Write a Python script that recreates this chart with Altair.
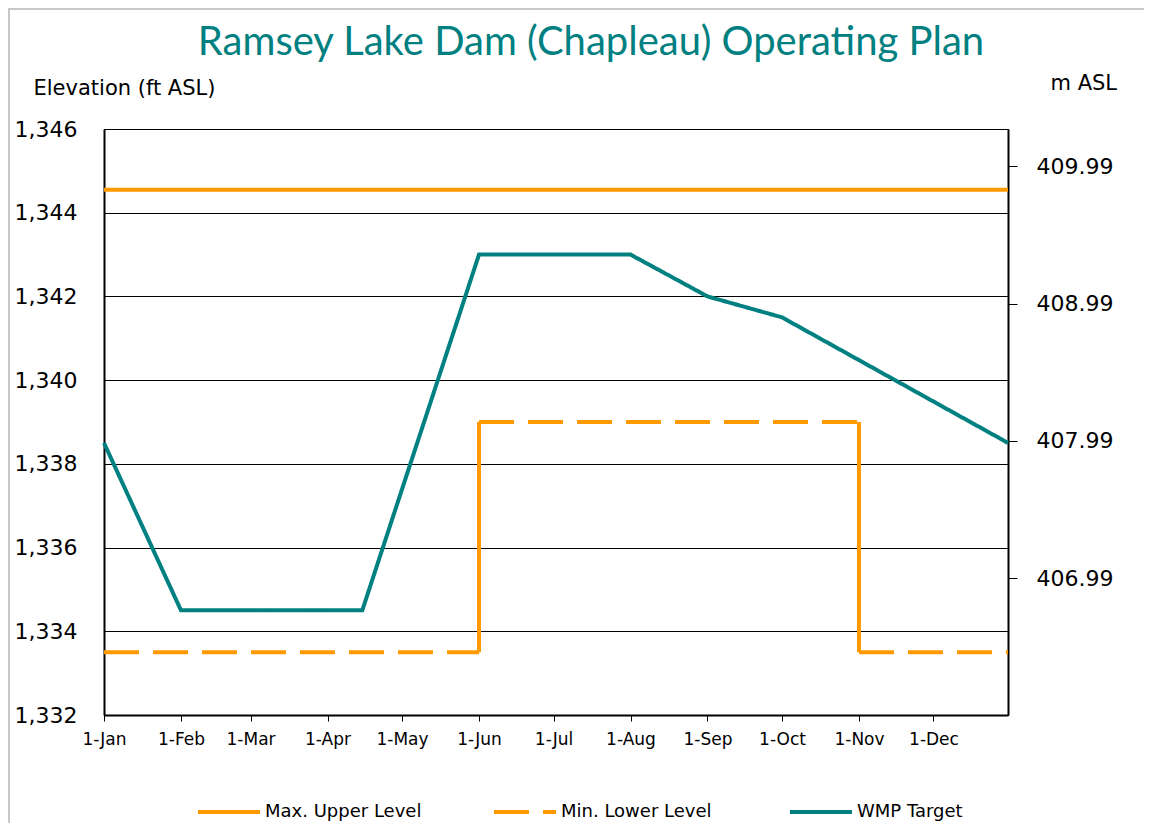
import altair as alt
import pandas as pd

# ---------------- data ----------------
series_names = ["Max. Upper Level", "Min. Lower Level", "WMP Target"]

month_ticks = ["2021-01-01", "2021-02-01", "2021-03-01", "2021-04-01", "2021-05-01", "2021-06-01",
               "2021-07-01", "2021-08-01", "2021-09-01", "2021-10-01", "2021-11-01", "2021-12-01"]

wmp_dates = ["2021-01-01", "2021-02-01", "2021-04-15", "2021-06-01", "2021-08-01",
             "2021-09-01", "2021-10-01", "2021-12-31"]
wmp_values = [1338.5, 1334.5, 1334.5, 1343.0, 1343.0, 1342.0, 1341.5, 1338.5]

max_dates = ["2021-01-01", "2021-12-31"]
max_values = [1344.55, 1344.55]

min_dates = ["2021-01-01", "2021-06-01", "2021-06-01", "2021-11-01", "2021-11-01", "2021-12-31"]
min_values = [1333.5, 1333.5, 1339.0, 1339.0, 1333.5, 1333.5]
min_segments = [1, 1, 2, 2, 3, 3]

step_dates = ["2021-06-01", "2021-11-01"]
step_from = [1333.5, 1339.0]
step_to = [1339.0, 1333.5]

ft_ticks = [1332, 1334, 1336, 1338, 1340, 1342, 1344, 1346]
m_ticks = [405.99, 406.99, 407.99, 408.99, 409.99]

FT_PER_M = 3.28084
FT_DOMAIN = [1332, 1346]
M_DOMAIN = [FT_DOMAIN[0] / FT_PER_M, FT_DOMAIN[1] / FT_PER_M]

ORANGE = "#FF9900"
TEAL = "#008080"
TITLE_FONT = "Lato"
FONT = "DejaVu Sans"

rows = []
for d, v in zip(max_dates, max_values):
    rows.append({"series": series_names[0], "seg": 0, "date": d, "value": v})
for d, v, s in zip(min_dates, min_values, min_segments):
    rows.append({"series": series_names[1], "seg": s, "date": d, "value": v})
for d, v in zip(wmp_dates, wmp_values):
    rows.append({"series": series_names[2], "seg": 0, "date": d, "value": v})
df = pd.DataFrame(rows)

steps = pd.DataFrame({"date": step_dates, "value": step_from, "value2": step_to})
mdf = pd.DataFrame({"m": m_ticks})

# ---------------- scales / axes ----------------
x_scale = alt.Scale(type="utc",
                    domain=[alt.DateTime(year=2021, month=1, date=1, utc=True),
                            alt.DateTime(year=2021, month=12, date=31, utc=True)])
x_axis = alt.Axis(values=[alt.DateTime(year=2021, month=i + 1, date=1, utc=True) for i in range(len(month_ticks))],
                  format="%-d-%b", title=None, grid=False, labelFlush=False,
                  domainColor="black", domainWidth=2, tickColor="black", tickSize=6, tickWidth=1,
                  labelFontSize=17, labelColor="black", labelPadding=10, labelFont=FONT)

y_scale = alt.Scale(domain=FT_DOMAIN, nice=False, zero=False)
y_axis = alt.Axis(values=ft_ticks, format=",", orient="left",
                  ticks=False, tickSize=0, labelPadding=27, labelFontSize=22, labelColor="black",
                  labelFlush=False, labelFont=FONT,
                  domainColor="black", domainWidth=2,
                  grid=True, gridColor="black", gridWidth=1,
                  title="Elevation (ft ASL)", titleAngle=0, titleAlign="left", titleBaseline="middle",
                  titleX=-71, titleY=-41, titleFontSize=21, titleFontWeight="normal", titleColor="black",
                  titleFont=FONT)

legend = alt.Legend(title=None, orient="none", legendX=92, legendY=650, direction="horizontal",
                    symbolType="stroke", symbolSize=3844, symbolStrokeWidth=4,
                    labelFontSize=18, labelOffset=3, labelColor="black", labelLimit=400, labelFont=FONT,
                    columnPadding=64, gridAlign="all")

lines = alt.Chart(df).mark_line(strokeWidth=4).encode(
    x=alt.X("date:T", scale=x_scale, axis=x_axis),
    y=alt.Y("value:Q", scale=y_scale, axis=y_axis),
    color=alt.Color("series:N", scale=alt.Scale(domain=series_names, range=[ORANGE, ORANGE, TEAL]),
                    legend=legend),
    strokeDash=alt.StrokeDash("series:N",
                              scale=alt.Scale(domain=series_names, range=[[1, 0], [35, 14], [1, 0]]),
                              legend=legend),
    detail="seg:N",
    order=alt.Order("seg:Q"),
)

connectors = alt.Chart(steps).mark_rule(strokeWidth=4, color=ORANGE).encode(
    x=alt.X("date:T", scale=x_scale, axis=x_axis),
    y=alt.Y("value:Q", scale=y_scale, axis=y_axis),
    y2="value2:Q",
)

frame_df = pd.DataFrame({"k": [0]})
border_left = alt.Chart(frame_df).mark_rule(stroke="#c8c8c8", strokeWidth=2).encode(
    x=alt.value(-95), y=alt.value(-121), y2=alt.value(695)
)
border_top = alt.Chart(frame_df).mark_rule(stroke="#c8c8c8", strokeWidth=2).encode(
    x=alt.value(-96), x2=alt.value(1040), y=alt.value(-120)
)

right_axis = alt.Chart(mdf).mark_point(opacity=0).encode(
    x=alt.value(0),
    y=alt.Y("m:Q", scale=alt.Scale(domain=M_DOMAIN, nice=False, zero=False),
            axis=alt.Axis(orient="right", values=m_ticks, format=".2f",
                          ticks=True, tickSize=9, tickColor="black", tickWidth=1,
                          labelPadding=19, labelFontSize=22, labelColor="black", labelFlush=False,
                          labelFont=FONT,
                          domainColor="black", domainWidth=2, grid=False,
                          title="m ASL", titleAngle=0, titleAlign="left", titleBaseline="middle",
                          titleX=42, titleY=-46, titleFontSize=21, titleFontWeight="normal",
                          titleColor="black", titleFont=FONT)),
)

inner = alt.layer(border_left, border_top, lines, connectors)

chart = alt.layer(inner, right_axis).resolve_scale(y="independent").properties(
    width=904, height=586,
    title=alt.TitleParams("Ramsey Lake Dam (Chapleau) Operating Plan", fontSize=40, font=TITLE_FONT,
                          fontWeight="normal", color=TEAL, anchor="middle", dx=35, dy=64, offset=8),
    autosize=alt.AutoSizeParams(type="none"),
    padding={"left": 96, "top": 121, "right": 136, "bottom": 108},
).configure(font=FONT).configure_view(stroke="black", strokeWidth=1)

chart.save("out.html", embed_options={"renderer": "svg", "actions": False})
